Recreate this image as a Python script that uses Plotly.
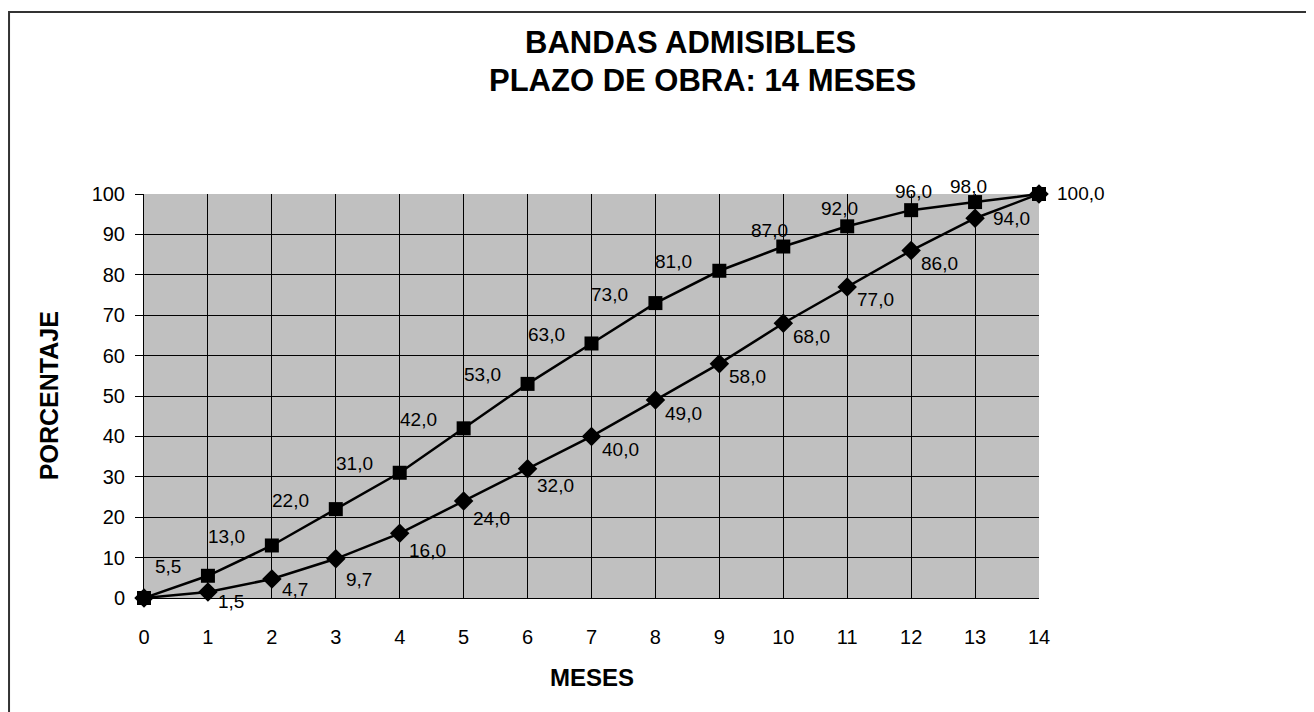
import plotly.graph_objects as go

meses = list(range(0, 15))
banda_superior = [0, 5.5, 13, 22, 31, 42, 53, 63, 73, 81, 87, 92, 96, 98, 100]
banda_inferior = [0, 1.5, 4.7, 9.7, 16, 24, 32, 40, 49, 58, 68, 77, 86, 94, 100]

def fmt(v):
    return f"{v:.1f}".replace(".", ",")

FONT = "Liberation Sans, Arial, sans-serif"
LABEL_FONT = dict(family=FONT, size=19, color="black")

fig = go.Figure()
fig.add_trace(go.Scatter(
    x=meses, y=banda_inferior, mode="lines+markers",
    line=dict(color="black", width=2.5),
    marker=dict(symbol="diamond", size=15, color="black"),
    cliponaxis=False, showlegend=False,
))
fig.add_trace(go.Scatter(
    x=meses, y=banda_superior, mode="lines+markers",
    line=dict(color="black", width=2.5),
    marker=dict(symbol="square", size=14, color="black"),
    cliponaxis=False, showlegend=False,
))

# label placement style (pixel offsets from the point), not data
def sup_style(m):
    if m == 14:
        return dict(xanchor="left", xshift=16, yshift=1)
    if m >= 10:
        shifts = {10: (-14, 16), 11: (-8, 18), 12: (2, 19), 13: (-7, 16)}
        dx, dy = shifts[m]
        return dict(xanchor="center", xshift=dx, yshift=dy)
    return dict(xanchor="right", xshift=-25, yshift=9)

def inf_style(m):
    if m <= 2:
        return dict(xanchor="left", xshift=8, yshift=-10)
    if m == 3:
        return dict(xanchor="left", xshift=8, yshift=-21)
    if m <= 6:
        return dict(xanchor="left", xshift=7, yshift=-17)
    if m == 13:
        return dict(xanchor="left", xshift=16, yshift=0)
    return dict(xanchor="left", xshift=8, yshift=-13)

annotations = []
for m, v in zip(meses[1:], banda_superior[1:]):
    annotations.append(dict(x=m, y=v, text=fmt(v), showarrow=False, yanchor="middle",
                            font=LABEL_FONT, **sup_style(m)))
for m, v in zip(meses[1:-1], banda_inferior[1:-1]):
    annotations.append(dict(x=m, y=v, text=fmt(v), showarrow=False, yanchor="middle",
                            font=LABEL_FONT, **inf_style(m)))

annotations += [
    dict(text="<b>BANDAS ADMISIBLES</b>", x=0.611, y=1.374, xref="paper", yref="paper",
         showarrow=False, xanchor="center", yanchor="middle",
         font=dict(family=FONT, size=31, color="black")),
    dict(text="<b>PLAZO DE OBRA: 14 MESES</b>", x=0.624, y=1.28, xref="paper", yref="paper",
         showarrow=False, xanchor="center", yanchor="middle",
         font=dict(family=FONT, size=31, color="black")),
    dict(text="<b>PORCENTAJE</b>", x=-0.106, y=0.5, xref="paper", yref="paper",
         showarrow=False, textangle=-90, xanchor="center", yanchor="middle",
         font=dict(family=FONT, size=25, color="black")),
    dict(text="<b>MESES</b>", x=0.50, y=-0.198, xref="paper", yref="paper",
         showarrow=False, xanchor="center", yanchor="middle",
         font=dict(family=FONT, size=24, color="black")),
]

fig.update_layout(
    width=1314, height=712,
    margin=dict(l=136, r=283, t=186, b=122),
    paper_bgcolor="white", plot_bgcolor="#C0C0C0",
    font=dict(family=FONT, color="black"),
    xaxis=dict(range=[0, 14], tickmode="linear", dtick=1, showgrid=True,
               gridcolor="black", gridwidth=1, zeroline=False,
               showline=True, linecolor="black", linewidth=1,
               ticks="", ticklabelstandoff=21,
               tickfont=dict(family=FONT, size=20, color="black")),
    yaxis=dict(range=[0, 100], tickmode="linear", dtick=10, showgrid=True,
               gridcolor="black", gridwidth=1, zeroline=False,
               showline=True, linecolor="black", linewidth=1,
               ticks="outside", ticklen=8, tickcolor="black",
               ticklabelstandoff=6,
               tickfont=dict(family=FONT, size=20, color="black")),
    annotations=annotations,
    shapes=[
        dict(type="rect", xref="paper", yref="paper", x0=-0.1508, y0=-0.6,
             x1=1.5, y1=1.4505, line=dict(color="#333333", width=2),
             fillcolor="rgba(0,0,0,0)", layer="below"),
    ],
)

fig.write_html("out.html")
